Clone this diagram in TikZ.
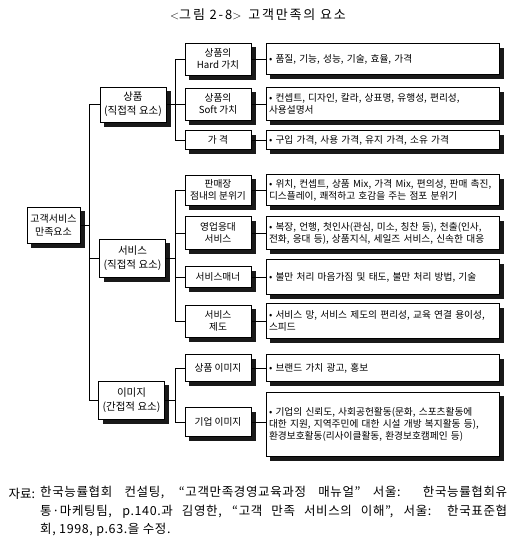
\documentclass[tikz,border=0pt]{standalone}
\usepackage{fontspec}
\setmainfont{Noto Sans CJK KR}
\usetikzlibrary{positioning, calc, backgrounds}
\definecolor{cShadow}{RGB}{25,25,25}
\tikzset{
	sbox/.style   ={rectangle, draw=black, line width=0.8pt, fill=white, inner sep=2pt, align=center,
	                font=\fontsize{9.7}{12}\selectfont},
	rootbox/.style={sbox, minimum width=53pt, minimum height=36pt, font=\fontsize{10}{13}\selectfont},
	catbox/.style ={sbox, minimum width=66pt, font=\fontsize{10.5}{14}\selectfont},
	midbox/.style ={sbox, minimum width=66pt},
	detbox/.style ={sbox, minimum width=233pt, text width=227pt, align=left, inner sep=1pt},
	link/.style   ={line width=0.7pt},
	boxshadow/.style={fill=cShadow, draw=none},
}
\begin{document}
\begin{tikzpicture}[x=1pt, y=-1pt]
	\useasboundingbox (0,0) rectangle (515,550);
	\node (title) at (258,15) {\fontsize{13}{16}\selectfont\addfontfeature{LetterSpace=14}$<$그림 2-8$>$\, 고객만족의 요소};
	% left side
	\node[rootbox] (root) at (53.5,225) {고객서비스\\만족요소};
	\node[catbox, minimum height=35pt] (prod) at (133,104.5) {상품\\(직접적 요소)};
	\node[catbox, minimum height=38pt] (svc) at (132.5,258) {서비스\\(직접적 요소)};
	\node[catbox, minimum height=38pt] (img) at (131.5,400) {이미지\\(간접적 요소)};
	% middle column
	\node[midbox, minimum height=32pt] (mhard) at (218,59) {상품의\\Hard 가치};
	\node[midbox, minimum height=32pt] (msoft) at (218,104) {상품의\\Soft 가치};
	\node[midbox, minimum height=19pt] (mprice) at (218,140) {가 격};
	\node[midbox, minimum height=30pt] (mshop) at (218,190) {판매장\\점내의 분위기};
	\node[midbox, minimum height=33pt] (mresp) at (218,233) {영업응대\\서비스};
	\node[midbox, minimum height=21pt] (mmanner) at (218,277) {서비스매너};
	\node[midbox, minimum height=32pt] (msys) at (218,321) {서비스\\제도};
	\node[midbox, minimum height=27pt] (mpimg) at (218,368) {상품 이미지};
	\node[midbox, minimum height=29pt] (mcimg) at (218,422) {기업 이미지};
	% right column
	\node[detbox, minimum height=31pt] (dhard) at (382.5,59) {• 품질, 기능, 성능, 기술, 효율, 가격};
	\node[detbox, minimum height=33pt] (dsoft) at (382.5,104) {• 컨셉트, 디자인, 칼라, 상표명, 유행성, 편리성,\\사용설명서};
	\node[detbox, minimum height=19pt] (dprice) at (382.5,140) {• 구입 가격, 사용 가격, 유지 가격, 소유 가격};
	\node[detbox, minimum height=31pt] (dshop) at (382.5,190) {• 위치, 컨셉트, 상품 Mix, 가격 Mix, 편의성, 판매 촉진,\\디스플레이, 쾌적하고 호감을 주는 점포 분위기};
	\node[detbox, minimum height=33pt] (dresp) at (382.5,233) {• 복장, 언행, 첫인사(관심, 미소, 칭찬 등), 천출(인사,\\전화, 응대 등), 상품지식, 세일즈 서비스, 신속한 대응};
	\node[detbox, minimum height=35pt] (dmanner) at (382.5,277) {• 불만 처리 마음가짐 및 태도, 불만 처리 방법, 기술};
	\node[detbox, minimum height=35pt] (dsys) at (382.5,321) {• 서비스 망, 서비스 제도의 편리성, 교육 연결 용이성,\\스피드};
	\node[detbox, minimum height=27pt] (dpimg) at (382.5,368) {• 브랜드 가치 광고, 홍보};
	\node[detbox, minimum height=64pt] (dcimg) at (382.5,424) {• 기업의 신뢰도, 사회공헌활동(문화, 스포츠활동에\\대한 지원, 지역주민에 대한 시설 개방 복지활동 등),\\환경보호활동(리사이클활동, 환경보호캠페인 등)};
	% shadows behind the boxes
	\begin{scope}[on background layer]
		\foreach \bx in {root, prod, svc, img, mhard, msoft, mprice, mshop, mresp, mmanner, msys, mpimg, mcimg, dhard, dsoft, dprice, dshop, dresp, dmanner, dsys, dpimg, dcimg}
			\fill[boxshadow] ($(\bx.south west)+(4.5,4.5)$) rectangle ($(\bx.north east)+(4.5,4.5)$);
	\end{scope}
	% connectors
	\coordinate (trunk) at (89,0);
	\coordinate (fork) at (175,0);
	\draw[link] (root.east) -- (root.east -| trunk);
	\draw[link] (prod.west) -- (prod.west -| trunk) -- (img.west -| trunk) -- (img.west);
	\draw[link] (svc.west) -- (svc.west -| trunk);
	\draw[link] (prod.east) -- (prod.east -| fork);
	\draw[link] (mhard.west) -- (mhard.west -| fork) -- (mprice.west -| fork) -- (mprice.west);
	\draw[link] (msoft.west) -- (msoft.west -| fork);
	\draw[link] (svc.east) -- (svc.east -| fork);
	\draw[link] (mshop.west) -- (mshop.west -| fork) -- (msys.west -| fork) -- (msys.west);
	\draw[link] (mresp.west) -- (mresp.west -| fork);
	\draw[link] (mmanner.west) -- (mmanner.west -| fork);
	\draw[link] (img.east) -- (img.east -| fork);
	\draw[link] (mpimg.west) -- (mpimg.west -| fork) -- (mcimg.west -| fork) -- (mcimg.west);
	\foreach \a/\b in {mhard/dhard, msoft/dsoft, mprice/dprice, mshop/dshop, mresp/dresp, mmanner/dmanner, msys/dsys, mpimg/dpimg, mcimg/dcimg}
		\draw[link] (\a.east) -- (\a.east -| \b.west);
	% source note
	\node[anchor=west, font=\fontsize{12.5}{18.5}\selectfont] (srclab) at (5,494) {자료:};
	\node[anchor=north west, inner sep=0pt, align=left, font=\fontsize{12.5}{18.5}\selectfont\addfontfeature{LetterSpace=5}] (src) at (40,486) {%
		\makebox[467pt][s]{한국능률협회 컨설팅, “고객만족경영교육과정 매뉴얼” 서울: 한국능률협회유}\\
		\makebox[467pt][s]{통·마케팅팀, p.140.과 김영한, “고객 만족 서비스의 이해”, 서울: 한국표준협}\\
		회, 1998, p.63.을 수정.};
\end{tikzpicture}
\end{document}
